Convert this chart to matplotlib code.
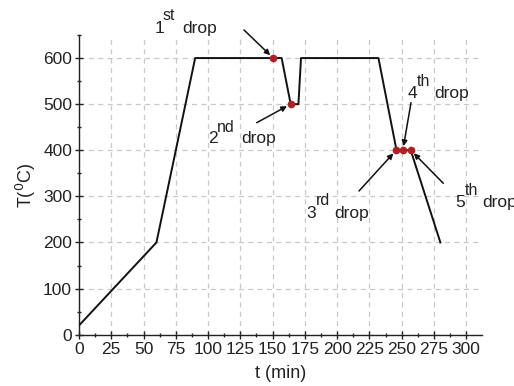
import matplotlib
matplotlib.use("Agg")
import matplotlib.pyplot as plt
from matplotlib.ticker import MultipleLocator

plt.rcParams['font.family'] = ['Liberation Sans', 'DejaVu Sans']

# Temperature profile
time_min = [0, 60, 90, 157, 164, 170, 172, 232, 246, 257, 280]
temp_c = [20, 200, 600, 600, 500, 500, 600, 600, 400, 400, 200]

# Drop points
drop_t = [150.5, 164, 245.7, 250.9, 257.1]
drop_T = [600, 500, 400, 400, 400]
drop_nums = ["1", "2", "3", "4", "5"]
drop_sups = ["st", "nd", "rd", "th", "th"]

W, H = 514, 386
fig = plt.figure(figsize=(W / 100, H / 100), dpi=100)
L, R, B, T = 79, 481.7, 334.7, 35
ax = fig.add_axes([L / W, 1 - B / H, (R - L) / W, (B - T) / H])

ax.set_xlim(0, 312)
ax.set_ylim(0, 650)
ax.grid(True, which='major', color='#c8c8c8', linestyle=(0, (4, 3.5)), linewidth=0.9)
ax.set_axisbelow(True)

ax.plot(time_min, temp_c, color='#111111', lw=1.4, zorder=3)
ax.plot(drop_t, drop_T, 'o', color='#b02020', ms=4.5, zorder=4)

for s in ['top', 'right']:
    ax.spines[s].set_visible(False)
for s in ['left', 'bottom']:
    ax.spines[s].set_color('#222222')
    ax.spines[s].set_linewidth(1.0)

ax.xaxis.set_major_locator(MultipleLocator(25))
ax.xaxis.set_minor_locator(MultipleLocator(12.5))
ax.yaxis.set_major_locator(MultipleLocator(100))
ax.yaxis.set_minor_locator(MultipleLocator(50))
ax.tick_params(which='major', direction='inout', length=6, width=1, colors='#222222',
               labelsize=12.5, pad=2)
ax.tick_params(which='minor', direction='inout', length=3.5, width=1, colors='#222222')

ax.set_xlabel('t (min)', fontsize=13, color='#222222', labelpad=6)
ax.set_ylabel(r'T($^0$C)', fontsize=13, color='#222222', labelpad=4)


def fp(px, py):
    return (px / W, 1 - py / H)


# label positions in pixels: (num_x, num_base, sup_x, sup_base, drop_x, drop_base)
labels = [
    (155, 33, 163, 20.5, 182.7, 33),
    (208, 143, 216.7, 131.5, 241.7, 143.5),
    (306, 218, 316, 205, 334, 218),
    (408, 98, 416.7, 86, 434, 98),
    (455, 206.7, 465, 195, 482.7, 206.7),
]
arrow_tails = [(244, 30), (256.7, 122.7), (359, 191), (411, 102.7), (443.3, 183.3)]

for i in range(5):
    nx, nb, sx, sb, dx, db = labels[i]
    fig.text(*fp(nx, nb), drop_nums[i], fontsize=12.5, color='#222222', va='baseline')
    fig.text(*fp(sx, sb), drop_sups[i], fontsize=11.5, color='#222222', va='baseline')
    fig.text(*fp(dx, db), 'drop', fontsize=12.5, color='#222222', va='baseline')
    ax.annotate('', xy=(drop_t[i], drop_T[i]), xycoords='data',
                xytext=fp(*arrow_tails[i]), textcoords='figure fraction',
                arrowprops=dict(arrowstyle='-|>', color='#111111', lw=1.1,
                                mutation_scale=8, shrinkA=0, shrinkB=3))

fig.savefig('out.png', dpi=100)
